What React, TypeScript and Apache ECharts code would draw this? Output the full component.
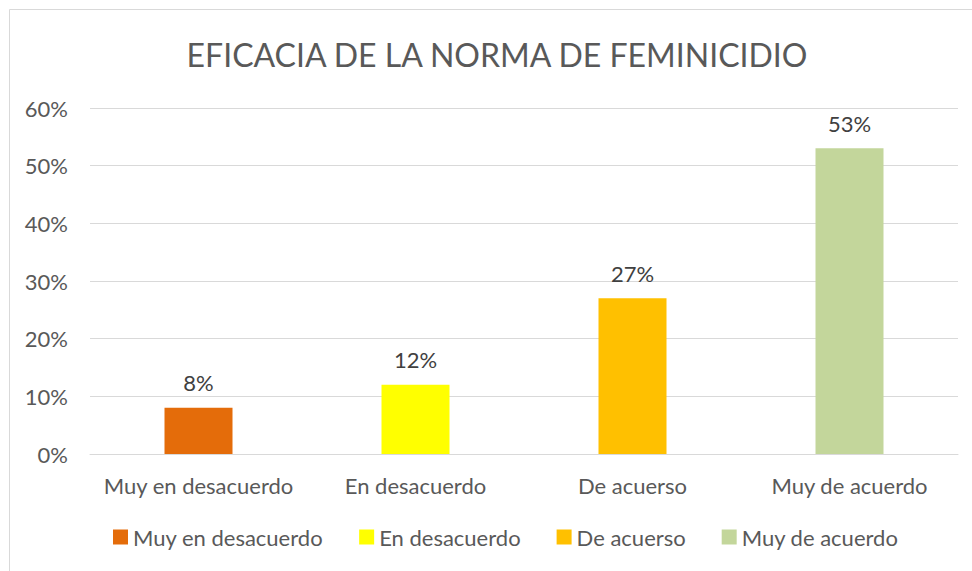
import React, { useEffect, useRef } from "react";
import * as echarts from "echarts";

const categories = ["Muy en desacuerdo", "En desacuerdo", "De acuerso", "Muy de acuerdo"];
const xLabels = ["Muy en desacuerdo", "En desacuerdo", "De acuerso", "Muy de acuerdo"];
const values = [0.08, 0.12, 0.27, 0.53];
const colors = ["#E46C0A", "#FFFF00", "#FFC000", "#C3D69B"];
const titleText = "EFICACIA DE LA NORMA DE FEMINICIDIO";

const FONT = "Lato, 'Open Sans', sans-serif";
const FS = 22;

export default function App() {
  const ref = useRef<HTMLDivElement>(null);
  useEffect(() => {
    if (!ref.current) return;
    const chart = echarts.init(ref.current, undefined, { renderer: "svg" });
    const series = categories.map((name, i) => ({
      name,
      type: "bar",
      stack: "all",
      barWidth: 68,
      itemStyle: { color: colors[i] },
      label: {
        show: true,
        position: "top",
        distance: 14,
        color: "#404040",
        fontSize: FS,
        fontFamily: FONT,
        formatter: (p: any) => Math.round(p.value * 100) + "%",
      },
      data: values.map((v, j) => (j === i ? v : "-")),
    }));
    chart.setOption({
      animation: false,
      backgroundColor: "#ffffff",
      textStyle: { fontFamily: FONT },
      grid: { left: 90, right: 14, top: 108, bottom: 117 },
      xAxis: {
        type: "category",
        data: xLabels,
        axisLine: { show: true, lineStyle: { color: "#d9d9d9", width: 1 } },
        axisTick: { show: false },
        axisLabel: { color: "#595959", fontSize: FS, fontFamily: FONT, margin: 20, interval: 0, hideOverlap: false },
      },
      yAxis: {
        type: "value",
        min: 0,
        max: 0.6,
        interval: 0.1,
        axisLine: { show: false },
        axisTick: { show: false },
        splitLine: { lineStyle: { color: "#d9d9d9", width: 1 } },
        axisLabel: {
          color: "#595959",
          fontSize: FS,
          fontFamily: FONT,
          margin: 22,
          formatter: (v: number) => Math.round(v * 100) + "%",
        },
      },
      legend: {
        left: 108,
        top: 521,
        itemWidth: 15,
        itemHeight: 15,
        itemGap: 36,
        icon: "rect",
        data: categories,
        textStyle: { color: "#595959", fontSize: FS, fontFamily: FONT },
      },
      graphic: [
        {
          type: "text",
          x: 497,
          y: 54,
          style: {
            text: titleText,
            fill: "#595959",
            fontSize: 32,
            fontFamily: FONT,
            textAlign: "center",
            textVerticalAlign: "middle",
          },
        },
        {
          type: "line",
          shape: { x1: 9.5, y1: 9.5, x2: 972, y2: 9.5 },
          style: { stroke: "#d9d9d9", lineWidth: 1 },
        },
        {
          type: "line",
          shape: { x1: 9.5, y1: 9.5, x2: 9.5, y2: 571 },
          style: { stroke: "#d9d9d9", lineWidth: 1 },
        },
      ],
      series,
    });
    return () => chart.dispose();
  }, []);
  return (
    <div style={{ position: "fixed", left: 0, top: 0, width: 972, height: 571, overflow: "hidden", background: "#fff" }}>
      <div ref={ref} style={{ width: 972, height: 571 }} />
    </div>
  );
}
